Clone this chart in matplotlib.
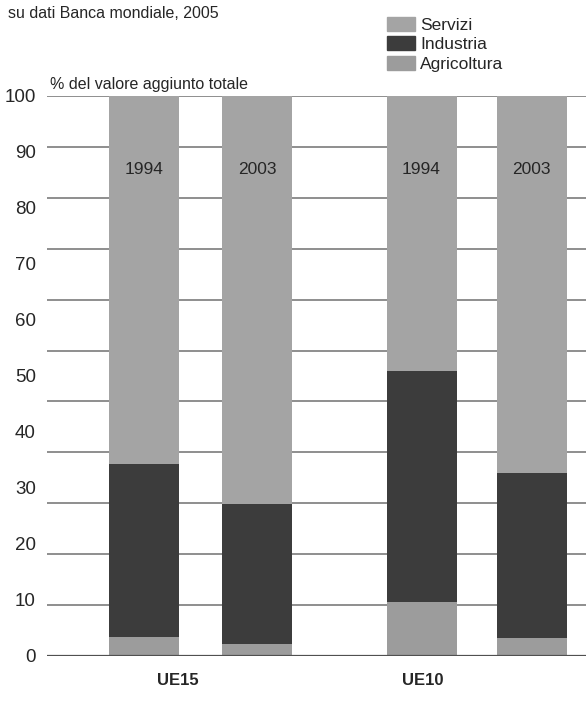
import numpy as np
import matplotlib
matplotlib.use('Agg')
import matplotlib.pyplot as plt
from matplotlib.patches import Patch

plt.rcParams['font.family'] = ['Liberation Sans Narrow', 'Liberation Sans', 'DejaVu Sans']

# dati (% del valore aggiunto totale)
groups = ['UE15', 'UE10']
years = ['1994', '2003', '1994', '2003']
agricoltura = [3.4, 2.1, 9.6, 3.2]
industria = [30.9, 25.0, 41.3, 29.5]
servizi = [65.7, 72.9, 49.1, 67.3]
yticks = [0, 10, 20, 30, 40, 50, 60, 70, 80, 90, 100]

c_serv = '#a4a4a4'
c_ind = '#3c3c3c'
c_agr = '#9c9c9c'
c_txt = '#262626'

fig = plt.figure(figsize=(5.86, 7.02), dpi=100)
ax = fig.add_axes([47/586, 46/702, 1 - 47/586, 560/702])

xpos = [144, 257, 421.5, 531.5]
w = 70
agr = np.array(agricoltura)
ind = np.array(industria)
ser = np.array(servizi)

# griglia (nell'originale le linee non coincidono con le etichette)
for g in np.linspace(0, 100, 12)[1:]:
    ax.axhline(g, color='#707070', lw=1.1, zorder=1)
ax.axhline(0, color='#505050', lw=1.6, zorder=4)

ax.bar(xpos, agr, w, color=c_agr, zorder=2)
ax.bar(xpos, ind, w, bottom=agr, color=c_ind, zorder=2)
ax.bar(xpos, ser, w, bottom=agr + ind, color=c_serv, zorder=2)

for x, y in zip(xpos, years):
    ax.text(x, 86.8, y, ha='center', va='center', fontsize=12.5, color=c_txt, zorder=5)

ax.set_xlim(47, 586)
ax.set_ylim(0, 100)
ax.set_yticks(yticks)
ax.set_yticklabels([str(t) for t in yticks], fontsize=13.5, color=c_txt)
ax.tick_params(axis='y', length=0, pad=8)
ax.set_xticks([178, 423])
ax.set_xticklabels(groups, fontsize=12, fontweight='bold', color=c_txt)
ax.tick_params(axis='x', length=0, pad=12)
for s in ax.spines.values():
    s.set_visible(False)

fig.text(50/586, 1 - 85/702, '% del valore aggiunto totale', fontsize=11.5,
         color=c_txt, va='center', ha='left')
fig.text(8/586, 1 - 13/702, 'su dati Banca mondiale, 2005', fontsize=11.5,
         color=c_txt, va='center', ha='left')

handles = [Patch(color=c_serv, label='Servizi'),
           Patch(color=c_ind, label='Industria'),
           Patch(color=c_agr, label='Agricoltura')]
fig.legend(handles=handles, loc='upper left', bbox_to_anchor=(380/586, 1 - 10/702),
           frameon=False, fontsize=12.5, handlelength=1.6, handleheight=0.85,
           handletextpad=0.3, labelspacing=0.2, borderaxespad=0,
           labelcolor=c_txt)

fig.savefig('out.png', dpi=100)
plt.close()
